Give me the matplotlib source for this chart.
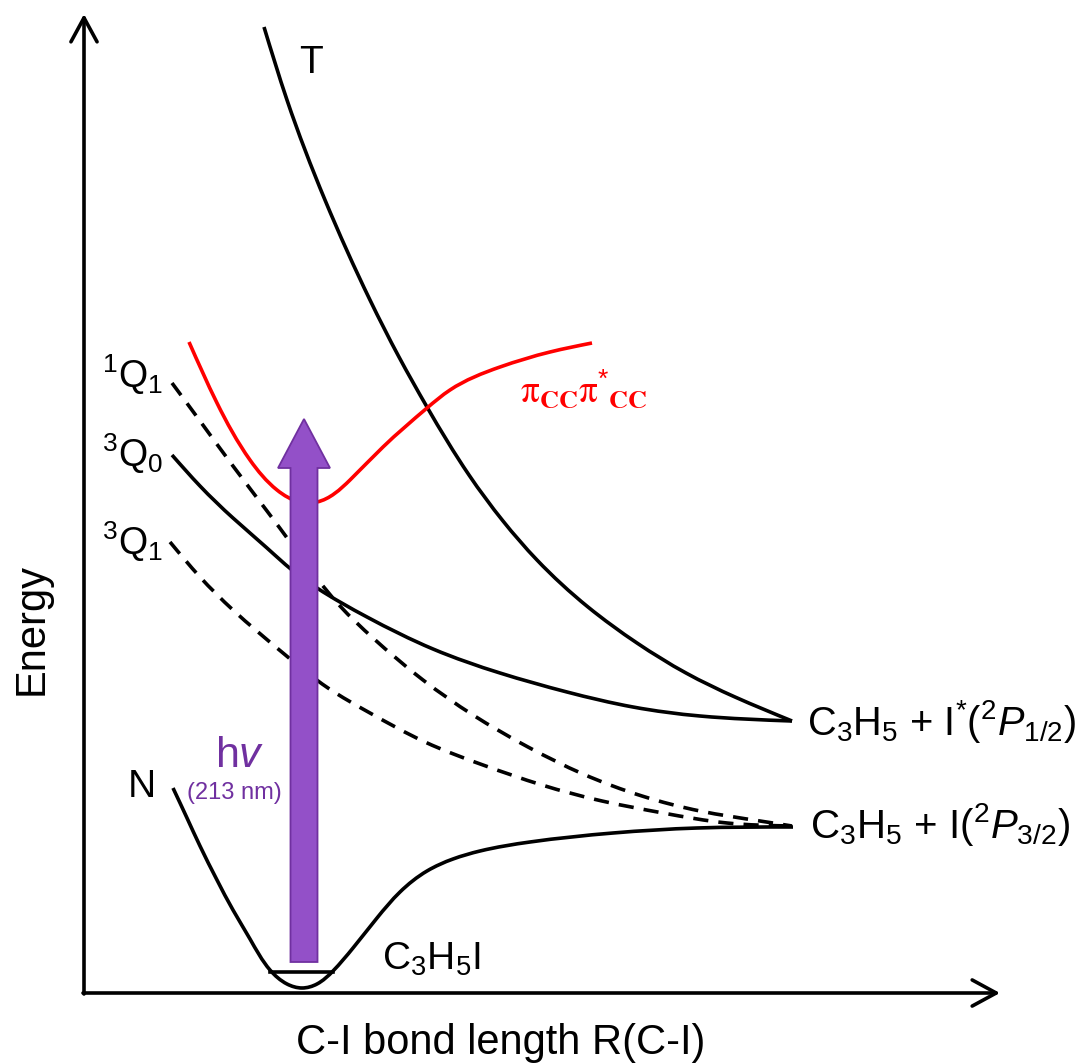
import numpy as np
import matplotlib
matplotlib.use("Agg")
import matplotlib.pyplot as plt
from matplotlib.path import Path
from matplotlib.patches import PathPatch, FancyArrow

plt.rcParams['font.family'] = ['Liberation Sans', 'DejaVu Sans']
plt.rcParams['mathtext.fontset'] = 'custom'
plt.rcParams['mathtext.rm'] = 'Liberation Sans'
plt.rcParams['mathtext.it'] = 'Liberation Sans:italic'
plt.rcParams['mathtext.bf'] = 'Liberation Sans:bold'
plt.rcParams['mathtext.default'] = 'regular'

# ---- potential energy curves (R = C-I distance, E = energy, arbitrary units) ----
R_T = [180, 203, 241, 286, 315, 343, 385, 419, 453, 504, 553, 602, 651, 708]
E_T = [966, 893, 793, 693, 636, 586, 518, 472, 433, 386, 350, 320, 296, 272]

R_3Q0 = [88, 116, 149, 183, 208, 233, 283, 349, 416, 483, 549, 616, 708]
E_3Q0 = [538, 507, 475, 445, 423, 405, 376, 344, 320, 301, 286, 277, 272]

R_1Q1 = [88, 116, 149, 183, 209, 256, 289, 339, 389, 444, 499, 558, 616, 676, 708]
E_1Q1 = [610, 572, 527, 482, 447, 387, 355, 313, 278, 246, 219, 197, 182, 172, 167]

R_3Q1 = [86, 116, 149, 199, 244, 286, 341, 399, 458, 518, 579, 643, 708]
E_3Q1 = [451, 416, 383, 340, 305, 280, 251, 228, 208, 192, 180, 170, 167]

R_N = [89, 103, 116, 133, 149, 166, 186, 203, 218, 233, 249, 269, 293, 316, 343,
       369, 396, 446, 529, 613, 709]
E_N = [205, 175, 147, 113, 83, 54, 23, 9, 5, 9, 22, 45, 75, 101, 122,
       134, 142, 151, 160, 165, 166]

R_PP = [105, 133, 166, 193, 216, 233, 266, 299, 343, 366, 416, 466, 508]
E_PP = [651, 590, 533, 503, 491, 491, 513, 546, 585, 603, 626, 641, 650]

# vibrational level of ground state
level_R = [186, 249]
level_E = 21

# photon excitation (213 nm)
photon_R = 220
photon_E = [31, 574]

# labels
label_T = "T"
label_1Q1 = r"$^1$Q$_1$"
label_3Q0 = r"$^3$Q$_0$"
label_3Q1 = r"$^3$Q$_1$"
label_N = "N"
label_mol = r"C$_3$H$_5$I"
label_Istar = r"C$_3$H$_5$ + I$^{*}$($^2$$\mathit{P}_{1/2}$)"
label_I = r"C$_3$H$_5$ + I($^2$$\mathit{P}_{3/2}$)"
label_pp = r"$\mathrm{\pi}_{\mathbf{CC}}\mathrm{\pi}^{*}{}_{\mathbf{CC}}$"
label_hv = r"h$\mathit{v}$"
label_nm = "(213 nm)"
xlabel = "C-I bond length R(C-I)"
ylabel = "Energy"

BLACK = "black"
RED = "#FF0000"
PURPLE_FILL = "#9350C8"
PURPLE_EDGE = "#7030A0"
LW = 2.6


def spline_path(xs, ys):
    """Smooth path (natural cubic spline, chord-length parametrised) through the points."""
    P = np.column_stack([xs, ys]).astype(float)
    n = len(P)
    h = np.hypot(*np.diff(P, axis=0).T)
    A = np.zeros((n, n))
    B = np.zeros((n, 2))
    A[0, 0] = A[-1, -1] = 1.0
    for i in range(1, n - 1):
        A[i, i - 1] = h[i - 1]
        A[i, i] = 2 * (h[i - 1] + h[i])
        A[i, i + 1] = h[i]
        B[i] = 6 * ((P[i + 1] - P[i]) / h[i] - (P[i] - P[i - 1]) / h[i - 1])
    M = np.linalg.solve(A, B)
    verts = [P[0]]
    codes = [Path.MOVETO]
    for i in range(n - 1):
        s = (P[i + 1] - P[i]) / h[i]
        d0 = s - h[i] * (2 * M[i] + M[i + 1]) / 6
        d1 = s + h[i] * (M[i] + 2 * M[i + 1]) / 6
        verts += [P[i] + h[i] / 3 * d0, P[i + 1] - h[i] / 3 * d1, P[i + 1]]
        codes += [Path.CURVE4] * 3
    return Path(verts, codes)


fig = plt.figure(figsize=(10.83, 10.63), dpi=100)
ax = fig.add_axes([0, 0, 1, 1])
ax.set_xlim(-84, 999)
ax.set_ylim(-70, 993)
ax.axis('off')

# axes arrows
arrow_style = '->,head_length=1.73,head_width=0.94'
ax.annotate('', xy=(0, 979), xytext=(0, -1),
            arrowprops=dict(arrowstyle=arrow_style, lw=LW, color=BLACK,
                            mutation_scale=10, shrinkA=0, shrinkB=0))
ax.annotate('', xy=(916, 0), xytext=(-1, 0),
            arrowprops=dict(arrowstyle=arrow_style, lw=LW, color=BLACK,
                            mutation_scale=10, shrinkA=0, shrinkB=0))

dash = (0, (4.2, 2.8))
curves = [
    (R_T, E_T, BLACK, '-'),
    (R_3Q0, E_3Q0, BLACK, '-'),
    (R_1Q1, E_1Q1, BLACK, dash),
    (R_3Q1, E_3Q1, BLACK, dash),
    (R_N, E_N, BLACK, '-'),
    (R_PP, E_PP, RED, '-'),
]
for xs, ys, c, ls in curves:
    ax.add_patch(PathPatch(spline_path(xs, ys), fill=False, edgecolor=c,
                           lw=LW, linestyle=ls, capstyle='butt', zorder=3))

ax.plot(level_R, [level_E, level_E], color=BLACK, lw=LW, zorder=3)

ax.add_patch(FancyArrow(photon_R, photon_E[0], 0, photon_E[1] - photon_E[0],
                        width=27, head_width=52, head_length=49,
                        length_includes_head=True, facecolor=PURPLE_FILL,
                        edgecolor=PURPLE_EDGE, lw=1.3, zorder=5))

# text labels
ax.text(215, 920, label_T, fontsize=28, ha='left', va='baseline')
ax.text(18, 605, label_1Q1, fontsize=27, ha='left', va='baseline')
ax.text(18, 526, label_3Q0, fontsize=27, ha='left', va='baseline')
ax.text(18, 438, label_3Q1, fontsize=27, ha='left', va='baseline')
ax.text(44, 196, label_N, fontsize=28, ha='left', va='baseline')
ax.text(298, 23, label_mol, fontsize=28, ha='left', va='baseline')
ax.text(723, 258, label_Istar, fontsize=28.6, ha='left', va='baseline')
ax.text(726, 155, label_I, fontsize=29, ha='left', va='baseline')
ax.text(436, 590, label_pp, fontsize=27, ha='left', va='baseline',
        color=RED, math_fontfamily='stix')
ax.text(131, 226, label_hv, fontsize=31, ha='left', va='baseline',
        color=PURPLE_EDGE)
ax.text(103, 194, label_nm, fontsize=17, ha='left', va='baseline',
        color=PURPLE_EDGE)
ax.text(417, -61, xlabel, fontsize=30, ha='center', va='baseline')
ax.text(-41, 364, ylabel, fontsize=30, ha='center', va='baseline',
        rotation=90, rotation_mode='anchor')

fig.savefig("out.png", dpi=100)
